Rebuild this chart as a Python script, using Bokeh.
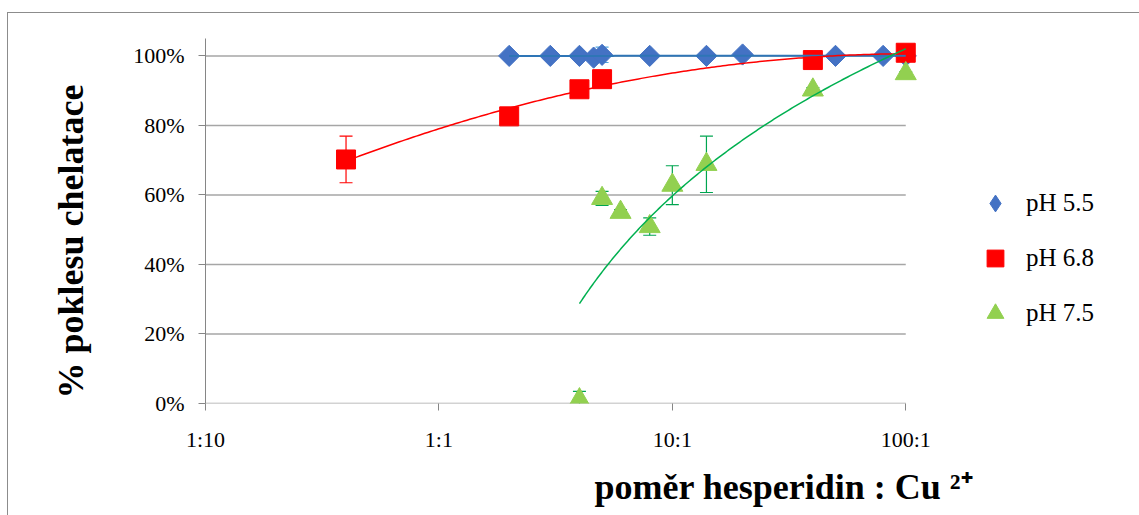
import numpy as np
from bokeh.plotting import figure
from bokeh.models import (ColumnDataSource, FixedTicker, PrintfTickFormatter, Range1d,
                          Legend, LegendItem, Title, Whisker, TeeHead)
from bokeh.embed import file_html
from bokeh.resources import INLINE

# ---- data ----
ratio_ticks = [0.1, 1, 10, 100]
ratio_labels = ["1:10", "1:1", "10:1", "100:1"]
y_ticks = [0, 20, 40, 60, 80, 100]

ph55_x = [2, 3, 4, 4.6, 5, 8, 14, 20, 50, 80, 100]
ph55_y = [100, 100, 100, 99.5, 100.3, 100, 100, 100.4, 100, 100, 100]
ph55_err = [0, 0, 0, 0, 2.2, 0, 0, 0, 0, 0, 0]

ph68_x = [0.4, 2, 4, 5, 40, 100]
ph68_y = [70.2, 82.6, 90.4, 93.3, 98.8, 100.9]
ph68_err = [6.7, 0, 0, 0, 0, 0]

ph75_x = [4, 5, 6, 8, 10, 14, 40, 100]
ph75_y = [1.1, 59.0, 55.0, 50.9, 62.8, 68.8, 90.2, 94.9]
ph75_err = [2.4, 2.0, 0.8, 2.5, 5.6, 8.1, 0.7, 0.5]

series_names = ["pH 5.5", "pH 6.8", "pH 7.5"]
y_title = "% poklesu chelatace"
x_title = "poměr hesperidin : Cu ²⁺"

FONT = "Liberation Serif"

# layout: plot area spans 1:10 .. 100:1 over 701 px; the frame continues to the
# right edge so that the legend (an in-frame annotation) can sit beside it
W, H = 1132, 503
LEFT, TOP, BOTTOM = 196, 25, 113
decade_px = 701 / 3.0
frame_w = W - LEFT
x_end = 10 ** (np.log10(ratio_ticks[0]) + frame_w / decade_px)

p = figure(width=W, height=H, x_axis_type="log",
           x_range=Range1d(ratio_ticks[0], x_end), y_range=Range1d(0, 105),
           output_backend="svg", toolbar_location=None,
           min_border_left=LEFT, min_border_right=0,
           min_border_top=TOP, min_border_bottom=BOTTOM)
p.margin = (12, 0, 0, 7)
p.styles = {"border-left": "1px solid #8c8c8c", "border-top": "1px solid #8c8c8c"}
p.outline_line_color = None
p.background_fill_color = "white"
p.border_fill_color = "white"

# axes
p.xaxis.ticker = FixedTicker(ticks=ratio_ticks, minor_ticks=[])
p.xaxis.major_label_overrides = dict(zip(ratio_ticks, ratio_labels))
p.yaxis.ticker = FixedTicker(ticks=y_ticks, minor_ticks=[])
p.yaxis.formatter = PrintfTickFormatter(format="%d%%")
for ax in (p.xaxis[0], p.yaxis[0]):
    ax.axis_line_color = "#868686"
    ax.axis_line_width = 1
    ax.major_tick_line_color = "#868686"
    ax.major_tick_in = 0
    ax.major_tick_out = 7
    ax.minor_tick_line_color = None
    ax.major_label_text_font = FONT
    ax.major_label_text_font_size = "22px"
    ax.major_label_text_color = "black"
p.xaxis.axis_line_color = None
p.yaxis.major_label_standoff = 14
p.xaxis.major_label_standoff = 16
p.xgrid.visible = False
p.ygrid.visible = False

# horizontal gridlines limited to the plotted span (0% line doubles as x axis line)
p.segment(x0=[ratio_ticks[0]] * len(y_ticks), x1=[ratio_ticks[-1]] * len(y_ticks),
          y0=y_ticks, y1=y_ticks, line_color="#a6a6a6", line_width=1.5)

# error bars
def add_err(xs, ys, es, color):
    sel = [i for i, e in enumerate(es) if e > 0]
    src = ColumnDataSource(dict(x=[xs[i] for i in sel],
                                lo=[ys[i] - es[i] for i in sel],
                                hi=[ys[i] + es[i] for i in sel]))
    w = Whisker(source=src, base="x", lower="lo", upper="hi", dimension="height",
                line_color=color, line_width=1.2,
                upper_head=TeeHead(size=13, line_color=color, line_width=1.2),
                lower_head=TeeHead(size=13, line_color=color, line_width=1.2))
    p.add_layout(w)

# markers
r55 = p.scatter(ph55_x, ph55_y, marker="square", angle=np.pi / 4, size=15,
                fill_color="#4472C4", line_color="#4472C4")
r68 = p.scatter(ph68_x, ph68_y, marker="square", size=19,
                fill_color="#FF0000", line_color="#FF0000")
r75 = p.scatter(ph75_x, ph75_y, marker="triangle", size=21,
                fill_color="#92D050", line_color="#92D050")
# legend glyph for pH 5.5 (diamond shape; zero size so it adds nothing to the plot)
r55_leg = p.scatter(ph55_x, ph55_y, marker="diamond", size=0,
                    fill_color="#4472C4", line_color="#4472C4", line_width=1)

add_err(ph55_x, ph55_y, ph55_err, "#4FA3DD")
add_err(ph68_x, ph68_y, ph68_err, "#FF0000")
add_err(ph75_x, ph75_y, ph75_err, "#00A550")

# trend lines (least-squares fits)
def trend_poly(xs, ys, deg):
    u = np.log10(np.array(xs, dtype=float))
    c = np.polyfit(u, np.array(ys, dtype=float), deg)
    uu = np.linspace(u.min(), u.max(), 200)
    return 10 ** uu, np.polyval(c, uu)

def trend_loglog(xs, ys):
    t = np.log(np.log10(np.array(xs, dtype=float)))
    c = np.polyfit(t, np.array(ys, dtype=float), 1)
    tt = np.linspace(t.min(), t.max(), 200)
    return 10 ** np.exp(tt), np.polyval(c, tt)

tx, ty = trend_poly(ph55_x, ph55_y, 1)
p.line(tx, ty, line_color="#2E75B6", line_width=2)
tx, ty = trend_poly(ph68_x, ph68_y, 2)
p.line(tx, ty, line_color="#FF0000", line_width=1.5)
tx, ty = trend_loglog(ph75_x, ph75_y)
p.line(tx, ty, line_color="#00B050", line_width=1.5)

# legend (inside the extended frame, right of the plotted span)
legend = Legend(items=[LegendItem(label=series_names[0], renderers=[r55_leg]),
                       LegendItem(label=series_names[1], renderers=[r68]),
                       LegendItem(label=series_names[2], renderers=[r75])],
                location=(769, 69), orientation="vertical",
                glyph_width=42, glyph_height=42, label_height=42,
                spacing=13, padding=0, margin=0, label_standoff=10,
                border_line_color=None, background_fill_alpha=0,
                label_text_font=FONT, label_text_font_size="25px",
                label_text_color="black")
p.add_layout(legend, "center")

# axis titles
p.add_layout(Title(text=y_title, align="left", offset=5, standoff=80,
                   text_font=FONT, text_font_style="bold", text_font_size="36px",
                   text_color="black"), "left")
p.add_layout(Title(text=x_title, align="left", offset=389, standoff=20,
                   text_font=FONT, text_font_style="bold", text_font_size="36px",
                   text_color="black"), "below")

open("out.html", "w").write(file_html(p, INLINE))
